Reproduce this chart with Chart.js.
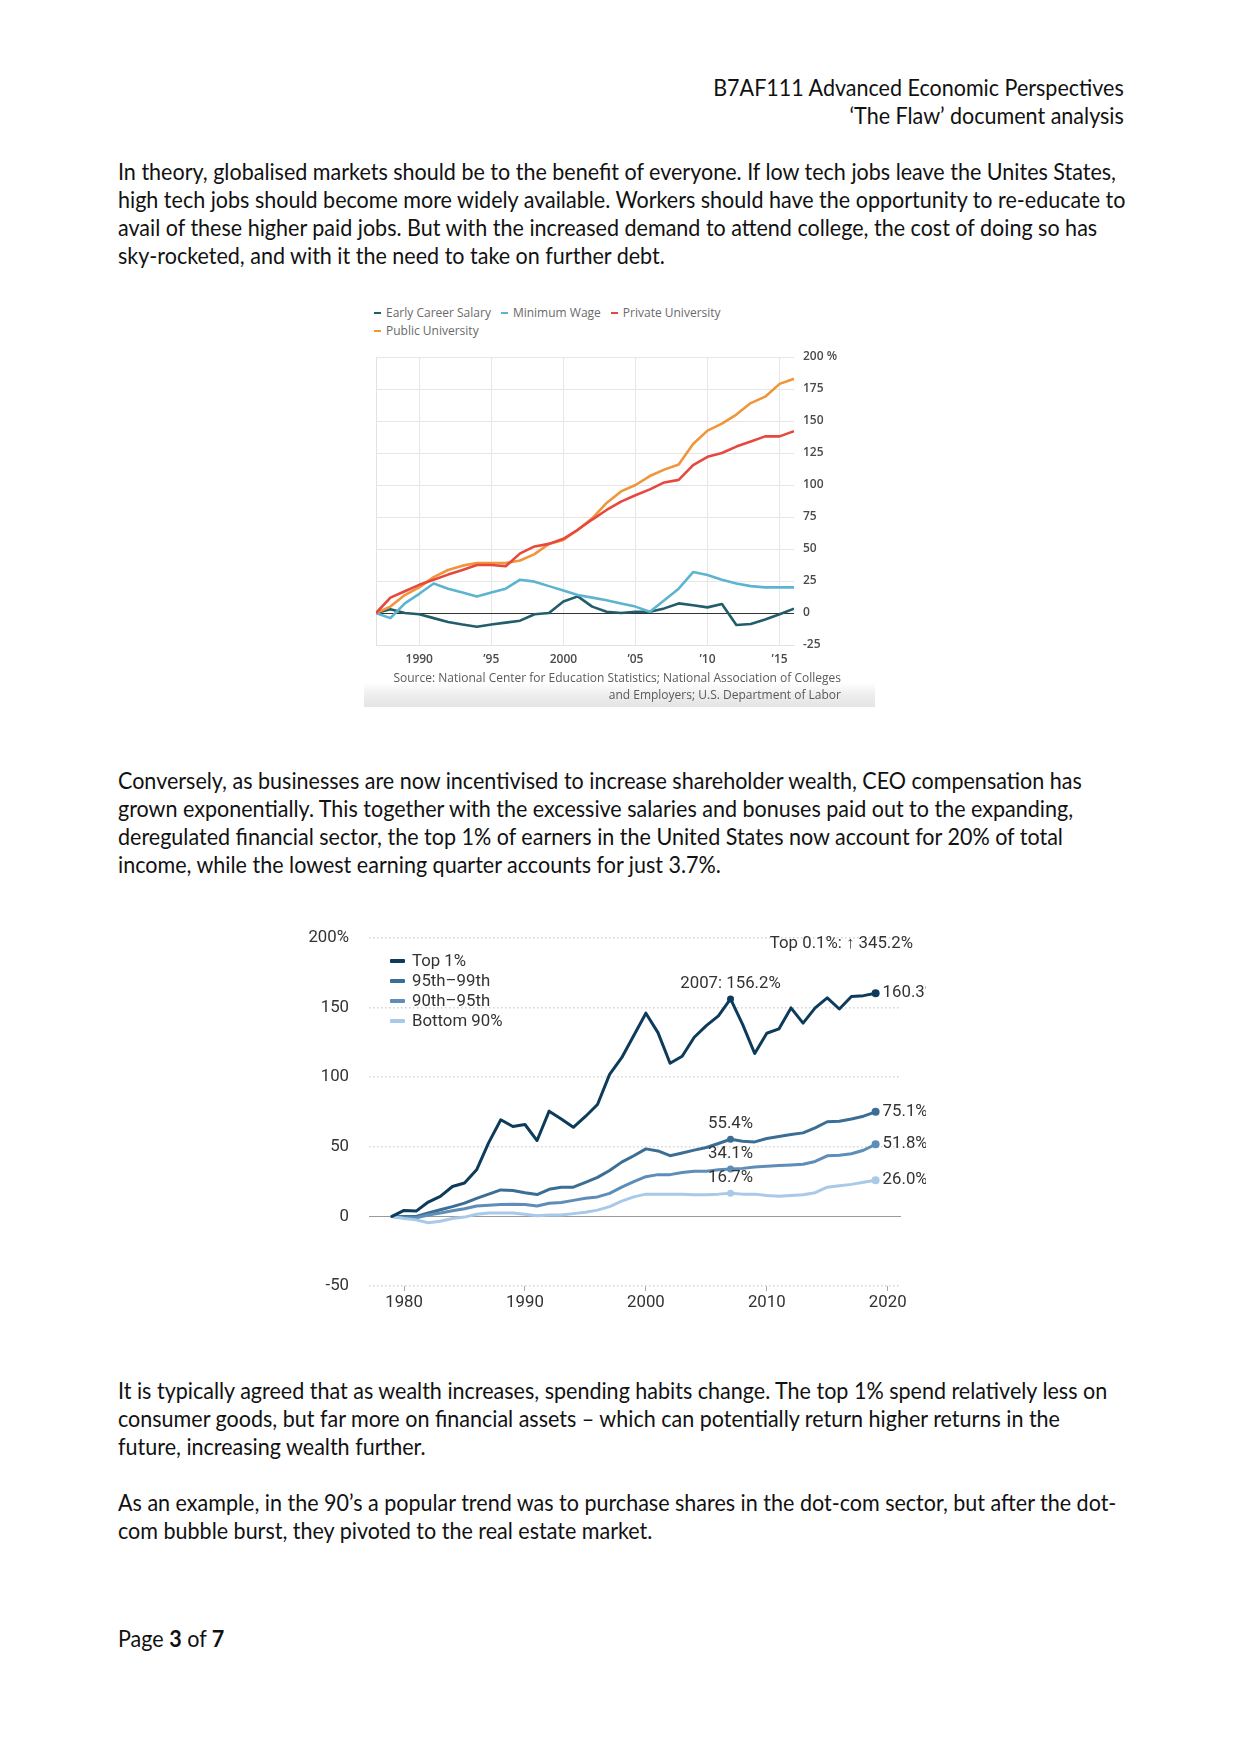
<!DOCTYPE html>
<html>
<head>
<meta charset="utf-8">
<script src="https://cdn.jsdelivr.net/npm/chart.js@4.4.1/dist/chart.umd.min.js"></script>
<style>
  body { margin: 0; background: #fff; }
  #page { position: relative; width: 1241px; height: 1754px; overflow: hidden; font-family: Lato, "Open Sans", sans-serif; color: #111; }
  .ln { position: absolute; left: 118px; font-size: 22.9px; line-height: 28px; height: 28px; white-space: nowrap; transform-origin: 0 50%; }
  .rt { left: auto; right: 117px; transform-origin: 100% 50%; }
  #box1 { position: absolute; left: 364px; top: 297px; width: 511px; height: 410px;
          background: linear-gradient(to bottom, #fff 0%, #fff 94%, #eeeeee 97%, #e4e4e4 100%); }
  #legend1 { position: absolute; left: 374px; top: 304px; width: 440px; font-family: "Open Sans", sans-serif; font-size: 12px; line-height: 18px; color: #6a6a6a; }
  #legend1 span.it { display: inline-block; margin-right: 10px; white-space: nowrap; }
  #legend1 i { display: inline-block; width: 7px; height: 2px; margin-right: 5px; vertical-align: middle; position: relative; top: -1px; }
  #wrap1 { position: absolute; left: 364px; top: 345px; width: 511px; height: 325px; }
  .src { position: absolute; right: 400px; font-family: "Open Sans", sans-serif; font-size: 12px; color: #5a5a5a; white-space: nowrap; text-align: right; }
  #wrap2 { position: absolute; left: 300px; top: 925px; width: 626px; height: 395px; }
  #legend2 { position: absolute; left: 390px; top: 950px; font-family: Roboto, sans-serif; font-size: 16.8px; line-height: 20px; color: #333; }
  #legend2 div { white-space: nowrap; }
  #legend2 i { display: inline-block; width: 15px; height: 4px; margin-right: 7px; vertical-align: middle; position: relative; top: -1px; border-radius: 1px; }
</style>
</head>
<body>
<div id="page">
  <div class="ln rt" style="top:73px">B7AF111 Advanced Economic Perspectives</div>
  <div class="ln rt" style="top:101px">‘The Flaw’ document analysis</div>

  <div class="ln" id="ref" style="top:157px">In theory, globalised markets should be to the benefit of everyone. If low tech jobs leave the Unites States,</div>
  <div class="ln" style="top:185px">high tech jobs should become more widely available. Workers should have the opportunity to re-educate to</div>
  <div class="ln" style="top:213px">avail of these higher paid jobs. But with the increased demand to attend college, the cost of doing so has</div>
  <div class="ln" style="top:241px">sky-rocketed, and with it the need to take on further debt.</div>

  <div id="box1"></div>
  <div id="legend1"></div>
  <div id="wrap1"><canvas id="chart1"></canvas></div>
  <div class="src" style="top:669px; right:400px">Source: National Center for Education Statistics; National Association of Colleges</div>
  <div class="src" style="top:686px; right:400px">and Employers; U.S. Department of Labor</div>

  <div class="ln" style="top:766px">Conversely, as businesses are now incentivised to increase shareholder wealth, CEO compensation has</div>
  <div class="ln" style="top:794px">grown exponentially. This together with the excessive salaries and bonuses paid out to the expanding,</div>
  <div class="ln" style="top:822px">deregulated financial sector, the top 1% of earners in the United States now account for 20% of total</div>
  <div class="ln" style="top:850px">income, while the lowest earning quarter accounts for just 3.7%.</div>

  <div id="wrap2"><canvas id="chart2"></canvas></div>
  <div id="legend2"></div>

  <div class="ln" style="top:1376px">It is typically agreed that as wealth increases, spending habits change. The top 1% spend relatively less on</div>
  <div class="ln" style="top:1404px">consumer goods, but far more on financial assets – which can potentially return higher returns in the</div>
  <div class="ln" style="top:1432px">future, increasing wealth further.</div>

  <div class="ln" style="top:1488px">As an example, in the 90’s a popular trend was to purchase shares in the dot-com sector, but after the dot-</div>
  <div class="ln" style="top:1516px">com bubble burst, they pivoted to the real estate market.</div>

  <div class="ln" style="top:1624px">Page <b>3</b> of <b>7</b></div>
</div>

<script>
// chart 1: cost of college vs wages, % change since 1987
const years1 = [1987, 1988, 1989, 1990, 1991, 1992, 1993, 1994, 1995, 1996, 1997, 1998, 1999, 2000, 2001,
                2002, 2003, 2004, 2005, 2006, 2007, 2008, 2009, 2010, 2011, 2012, 2013, 2014, 2015, 2016];
const earlyCareer = [0, 3, 0, -1, -4, -7, -9, -10.7, -9, -7.5, -6, -1, 0, 9, 13,
                     5, 1, 0, 1, 1, 3.6, 7.5, 6, 4.4, 7, -9.4, -8.6, -5, -1, 3.4];
const minWage = [0, -4, 7.5, 15, 23, 19, 16, 12.8, 16, 19, 26, 24.5, 21, 17.5, 14,
                 12, 10, 7.5, 5, 1, 10, 19, 32, 29.7, 26, 23, 21, 20, 20, 20];
const privateUni = [0, 12, 17, 22, 26, 30, 33.6, 37.5, 37.5, 36.5, 46.6, 52, 54, 58, 65,
                    73, 80.5, 87, 92, 96.6, 102, 104, 115.6, 122, 125, 130, 134, 138, 138, 142];
const publicUni = [0, 5, 14, 20, 28, 33.6, 37, 39, 39, 39, 41, 46, 54, 57, 65,
                   74, 86, 95, 100, 107, 112, 116, 132, 142.5, 148, 155, 164, 169, 179, 183];
const names1 = ['Early Career Salary', 'Minimum Wage', 'Private University', 'Public University'];
const colors1 = ['#215d6b', '#5db4d0', '#e6483d', '#f0953a'];

// chart 2: cumulative change in real annual wages since 1979
const years2 = [1979, 1980, 1981, 1982, 1983, 1984, 1985, 1986, 1987, 1988, 1989, 1990, 1991, 1992,
                1993, 1994, 1995, 1996, 1997, 1998, 1999, 2000, 2001, 2002, 2003, 2004, 2005, 2006,
                2007, 2008, 2009, 2010, 2011, 2012, 2013, 2014, 2015, 2016, 2017, 2018, 2019];
const top1 = [0, 4.3, 3.8, 10.3, 14.4, 21.5, 24, 33.5, 53, 69.4, 64.6, 66, 54.5, 75.6,
              70, 64, 71.8, 80.4, 102, 114, 130, 146, 132, 110, 115, 128.7, 137, 144,
              156.2, 138, 117, 131.6, 134.7, 149.8, 138.8, 149.8, 157, 149, 158, 158.6, 160.3];
const p95to99 = [0, 0, 0, 2.4, 4.8, 7, 9.5, 13, 16, 19, 18.6, 17, 15.7, 19.5,
                 21, 21, 24.5, 28, 33, 39, 43.6, 48.5, 47, 43.6, 45.5, 47.6, 49.5, 52.4,
                 55.4, 54, 53.5, 56, 57.4, 58.8, 60, 63.6, 68, 68.3, 70, 72, 75.1];
const p90to95 = [0, -1, -1, 1, 2.5, 4, 5.5, 7.5, 8, 8.5, 8.8, 8.5, 7.5, 9.5,
                 10, 11.5, 13, 14, 16.5, 21, 25, 28.5, 30, 30, 31.5, 32.5, 32.5, 33.5,
                 34.1, 34.5, 35.5, 36, 36.5, 37, 37.5, 39.5, 43.5, 44, 45, 47.5, 51.8];
const bottom90 = [0, -1.5, -2.5, -4.5, -3.5, -1.5, -0.5, 1.5, 2.5, 2.5, 2.5, 1.5, 0.5, 1,
                  1, 2, 3, 4.5, 7, 11, 14, 16, 16, 16, 16, 15.5, 15.5, 16,
                  16.7, 16, 16, 15, 14.5, 15, 15.5, 17, 21, 22, 23, 24.5, 26.0];
const names2 = ['Top 1%', '95th–99th', '90th–95th', 'Bottom 90%'];
const colors2 = ['#0c3b5b', '#3b6e95', '#5d8db8', '#a9c9e8'];
const peakYear = 2007;
const top01Change = 345.2;

// squeeze body text to the width of the original font
const refW = document.getElementById('ref').getBoundingClientRect().width;
const sx = 998 / refW;
document.querySelectorAll('.ln').forEach(function (el) { el.style.transform = 'scaleX(' + sx + ')'; });

function pts(xs, ys) {
  return ys.map(function (v, i) { return { x: xs[i], y: v }; });
}

// drop the label padding chart.js adds so the plot area sits where the layout says
function noPad(s) { s.paddingTop = 0; s.paddingBottom = 0; s.paddingLeft = 0; s.paddingRight = 0; }

// ---------- chart 1 ----------
const series1 = [earlyCareer, minWage, privateUni, publicUni];
document.getElementById('legend1').innerHTML = names1.map(function (n, i) {
  return '<span class="it"><i style="background:' + colors1[i] + '"></i>' + n + '</span>' + (i === 2 ? '<br>' : '');
}).join('');

const leftEdge = {
  id: 'leftEdge',
  beforeDatasetsDraw: function (chart) {
    const c = chart.ctx, a = chart.chartArea;
    const x = Math.round(chart.scales.x.getPixelForValue(years1[0])) + 0.5;
    c.save();
    c.strokeStyle = '#e2e2e2';
    c.lineWidth = 1;
    c.beginPath(); c.moveTo(x, a.top); c.lineTo(x, a.bottom); c.stroke();
    c.restore();
  }
};

const ctx1 = document.getElementById('chart1');
new Chart(ctx1, {
  type: 'line',
  data: {
    datasets: series1.map(function (s, i) {
      return { label: names1[i], data: pts(years1, s), borderColor: colors1[i], borderWidth: 2.6,
               pointRadius: 0, tension: 0, borderJoinStyle: 'round', order: [4, 3, 1, 2][i] };
    })
  },
  options: {
    responsive: true, maintainAspectRatio: false, animation: false,
    layout: { padding: { left: 12, top: 12, right: 0, bottom: 0 } },
    plugins: { legend: { display: false }, tooltip: { enabled: false } },
    scales: {
      x: {
        type: 'linear', min: years1[0], max: years1[years1.length - 1],
        afterFit: function (s) { s.height = 25; noPad(s); },
        grid: { drawTicks: false, color: '#e6e6e6' },
        border: { display: true, color: '#e2e2e2' },
        ticks: {
          stepSize: 5, includeBounds: false, padding: 7, color: '#4a4a4a', font: { family: 'Open Sans', size: 12, weight: '600' },
          callback: function (v) {
            if (v === 1990 || v === 2000) return String(v);
            return '\u2019' + String(v).slice(2);
          }
        }
      },
      y: {
        position: 'right', min: -25, max: 200,
        afterFit: function (s) { s.width = 81; noPad(s); },
        grid: { drawTicks: false,
                color: function (c) { return c.tick && c.tick.value === 0 ? '#333' : '#e6e6e6'; } },
        border: { display: false },
        ticks: {
          stepSize: 25, padding: 9, color: '#4a4a4a', font: { family: 'Open Sans', size: 12, weight: '600' },
          callback: function (v) { return v === 200 ? '200 %' : String(v); }
        }
      }
    }
  },
  plugins: [leftEdge]
});

// ---------- chart 2 ----------
const series2 = [top1, p95to99, p90to95, bottom90];
document.getElementById('legend2').innerHTML = names2.map(function (n, i) {
  return '<div><i style="background:' + colors2[i] + '"></i>' + n + '</div>';
}).join('');

const peakIdx = years2.indexOf(peakYear);
const lastIdx = years2.length - 1;
const font2 = '16.8px Roboto, sans-serif';

const labels2 = {
  id: 'labels2',
  afterDatasetsDraw: function (chart) {
    const c = chart.ctx, xs = chart.scales.x, ys = chart.scales.y;
    c.save();
    c.font = font2;
    c.fillStyle = '#333';
    c.textBaseline = 'middle';
    // labels above the 2007 points
    c.textAlign = 'center';
    series2.forEach(function (s, i) {
      const x = xs.getPixelForValue(peakYear), y = ys.getPixelForValue(s[peakIdx]);
      const t = (i === 0 ? peakYear + ': ' : '') + s[peakIdx].toFixed(1) + '%';
      c.fillText(t, x, y - 15);
    });
    // end labels
    c.textAlign = 'left';
    series2.forEach(function (s) {
      const x = xs.getPixelForValue(years2[lastIdx]), y = ys.getPixelForValue(s[lastIdx]);
      c.fillText(s[lastIdx].toFixed(1) + '%', x + 7, y);
    });
    // top 0.1% note
    c.textAlign = 'right';
    c.fillText('Top 0.1%: \u2191 ' + top01Change.toFixed(1) + '%', chart.chartArea.right + 12, chart.chartArea.top + 6);
    c.restore();
  },
  beforeDatasetsDraw: function (chart) {
    const c = chart.ctx, ys = chart.scales.y, a = chart.chartArea;
    const y0 = Math.round(ys.getPixelForValue(0)) + 0.5;
    c.save();
    c.strokeStyle = '#9a9a9a';
    c.lineWidth = 1;
    c.beginPath(); c.moveTo(a.left, y0); c.lineTo(a.right, y0); c.stroke();
    c.restore();
  }
};

const ctx2 = document.getElementById('chart2');
new Chart(ctx2, {
  type: 'line',
  data: {
    datasets: series2.map(function (s, i) {
      return {
        label: names2[i], data: pts(years2, s), borderColor: colors2[i], backgroundColor: colors2[i],
        borderWidth: 3, tension: 0, borderJoinStyle: 'round', borderCapStyle: 'round', order: i === 0 ? 1 : 5 - i,
        pointRadius: function (c) { return c.dataIndex === lastIdx ? 4 : (c.dataIndex === peakIdx ? 3.5 : 0); },
        pointBorderWidth: 0, pointBackgroundColor: colors2[i]
      };
    })
  },
  options: {
    responsive: true, maintainAspectRatio: false, animation: false,
    layout: { padding: { left: 0, top: 13, right: 25, bottom: 0 } },
    plugins: { legend: { display: false }, tooltip: { enabled: false } },
    scales: {
      x: {
        type: 'linear', min: 1977.1, max: 2021.1,
        afterFit: function (s) { s.height = 34; noPad(s); },
        grid: { drawOnChartArea: false, drawTicks: true, tickLength: 5, tickColor: '#aaa' },
        border: { display: false },
        ticks: { stepSize: 10, includeBounds: false, padding: 2, color: '#333',
                 font: { family: 'Roboto', size: 16.8 }, callback: function (v) { return String(v); } }
      },
      y: {
        min: -50, max: 200,
        afterFit: function (s) { s.width = 69; noPad(s); },
        grid: { drawTicks: false, lineWidth: 1.5,
                color: function (c) { return c.tick && c.tick.value === 0 ? 'rgba(0,0,0,0)' : '#d4d4d4'; } },
        border: { display: false, dash: [1.5, 2.5] },
        ticks: { stepSize: 50, padding: 20, color: '#333', font: { family: 'Roboto', size: 16.8 },
                 callback: function (v) { return v === 200 ? '200%' : String(v); } }
      }
    }
  },
  plugins: [labels2]
});
</script>
</body>
</html>
